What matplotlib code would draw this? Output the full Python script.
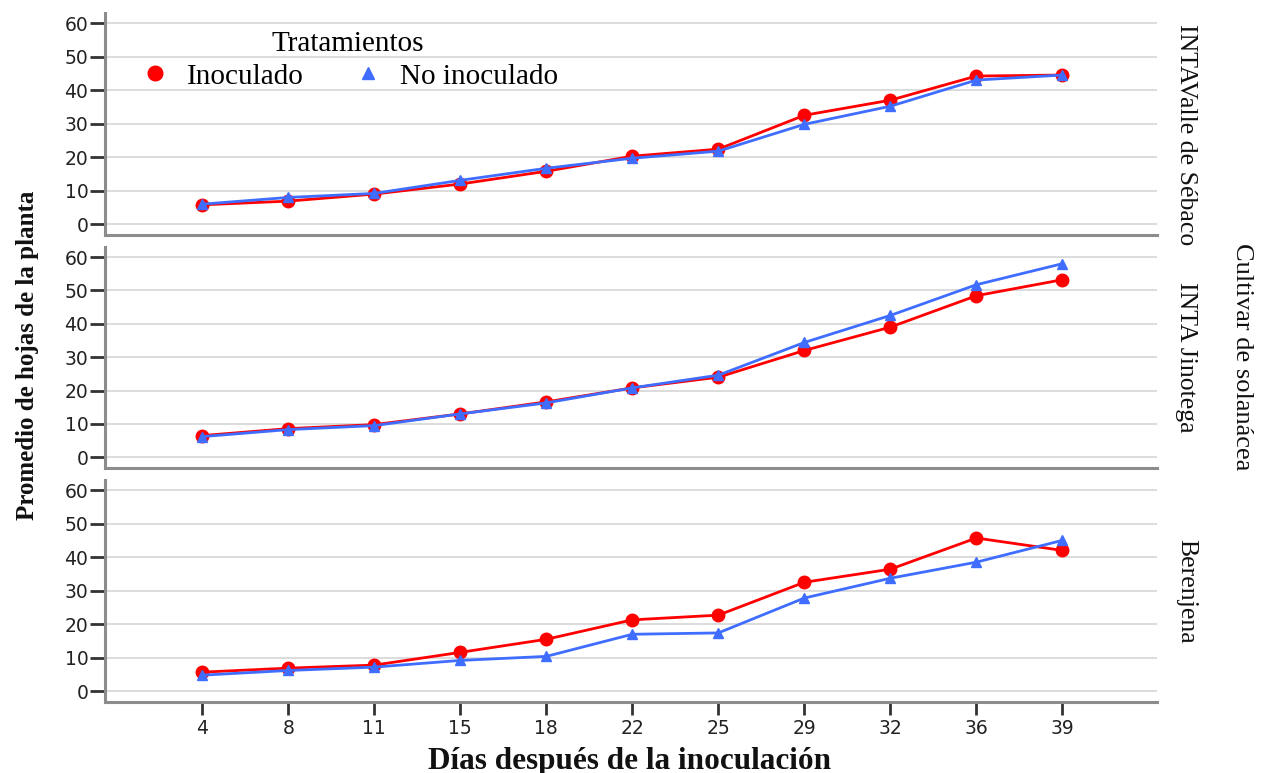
import numpy as np
import matplotlib.pyplot as plt
from matplotlib.lines import Line2D

# days after inoculation (categorical axis)
dias = ['4', '8', '11', '15', '18', '22', '25', '29', '32', '36', '39']
cultivares = ['INTAValle de Sébaco', 'INTA Jinotega', 'Berenjena']

# Inoculado
inoc_sebaco = [5.8, 6.9, 9.0, 12.0, 15.8, 20.3, 22.4, 32.5, 37.0, 44.2, 44.5]
inoc_jinotega = [6.5, 8.6, 9.8, 13.0, 16.6, 20.8, 24.0, 32.0, 39.0, 48.4, 53.2]
inoc_berenjena = [5.7, 6.9, 7.8, 11.6, 15.5, 21.3, 22.7, 32.5, 36.4, 45.7, 42.0]
# No inoculado
noinoc_sebaco = [6.0, 8.0, 9.2, 13.1, 16.7, 19.7, 21.8, 29.8, 35.2, 43.0, 44.5]
noinoc_jinotega = [6.2, 8.3, 9.5, 13.0, 16.3, 20.8, 24.6, 34.4, 42.5, 51.7, 58.0]
noinoc_berenjena = [4.8, 6.2, 7.2, 9.2, 10.4, 17.0, 17.4, 27.8, 33.7, 38.5, 45.0]

inoc = [inoc_sebaco, inoc_jinotega, inoc_berenjena]
noinoc = [noinoc_sebaco, noinoc_jinotega, noinoc_berenjena]
yticks = [0, 10, 20, 30, 40, 50, 60]

RED = '#ff0000'
BLUE = '#3f6dff'
SERIF = 'Liberation Serif'

W, H = 1262, 773
fig = plt.figure(figsize=(W / 100, H / 100), dpi=100)

# panel pixel boxes (top, bottom) from the picture
boxes = [(13, 235), (247, 468), (480, 702)]
left, right = 105, 1157
x = np.arange(len(dias))

for i, (t, b) in enumerate(boxes):
    ax = fig.add_axes([left / W, 1 - b / H, (right - left) / W, (b - t) / H])
    ax.plot(x, inoc[i], color=RED, lw=2.0, marker='o', ms=9, zorder=3)
    ax.plot(x, noinoc[i], color=BLUE, lw=2.0, marker='^', ms=7.5, zorder=4)
    ax.set_xlim(-1.13, 11.1)
    ax.set_ylim(-3.2, 63)
    ax.set_yticks(yticks)
    ax.grid(axis='y', color='#dcdcdc', lw=1.4)
    ax.set_axisbelow(True)
    for s in ['top', 'right']:
        ax.spines[s].set_visible(False)
    for s in ['left', 'bottom']:
        ax.spines[s].set_color('#8c8c8c')
        ax.spines[s].set_linewidth(2.2)
    ax.tick_params(axis='y', direction='out', length=11, width=2,
                   color='#333333', labelsize=13.5, labelcolor='#222222', pad=1)
    ax.set_xticks(x)
    if i < 2:
        ax.tick_params(axis='x', length=0, labelbottom=False)
    else:
        ax.set_xticklabels(dias)
        ax.tick_params(axis='x', direction='out', length=9, width=2,
                       color='#333333', labelsize=13.5, labelcolor='#222222', pad=3)
    # strip label on the right
    cy = (t + b) / 2 if i > 0 else 135
    fig.text(1186 / W, 1 - cy / H, cultivares[i], rotation=-90, ha='center',
             va='center', family=SERIF, fontsize=18.5, color='#111111')

fig.text(1242 / W, 1 - 357 / H, 'Cultivar de solanácea', rotation=-90,
         ha='center', va='center', family=SERIF, fontsize=19, color='#111111')
fig.text(28 / W, 1 - 355 / H, 'Promedio de hojas de la planta', rotation=90,
         ha='center', va='center', family=SERIF, fontsize=18, weight='bold',
         color='#111111')
fig.text(630 / W, 1 - 761 / H, 'Días después de la inoculación', ha='center',
         va='center', family=SERIF, fontsize=22.5, weight='bold', color='#111111')

handles = [Line2D([], [], color=RED, marker='o', ls='none', ms=10.5),
           Line2D([], [], color=BLUE, marker='^', ls='none', ms=8)]
leg = fig.legend(handles, ['Inoculado', 'No inoculado'], loc='upper left',
                 bbox_to_anchor=(117 / W, 1 - 11 / H), ncol=2, frameon=False,
                 title='Tratamientos', prop={'family': SERIF, 'size': 21},
                 handletextpad=0.5, columnspacing=1.6, handlelength=1.2,
                 borderpad=0.2, labelspacing=0.2)
leg.get_title().set_fontfamily(SERIF)
leg.get_title().set_fontsize(21)

fig.savefig('out.png', dpi=100)
